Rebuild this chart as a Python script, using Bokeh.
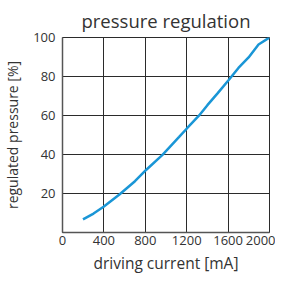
from bokeh.plotting import figure
from bokeh.models import Range1d, FixedTicker
from bokeh.embed import file_html
from bokeh.resources import INLINE

current_ma = [198, 300, 397, 550, 700, 810, 966, 1127, 1206, 1318, 1400, 1500, 1608, 1700, 1798, 1894, 2000]
pressure_pct = [6.7, 9.7, 13.2, 19.5, 26.3, 32.2, 39.8, 49.0, 53.6, 59.9, 65.3, 71.5, 78.3, 84.4, 89.8, 96.4, 100.0]
x_ticks = [0, 400, 800, 1200, 1600, 2000]
y_ticks = [20, 40, 60, 80, 100]
x_title = "driving current [mA]"
y_title = "regulated pressure [%]"

FONT = "Open Sans"
TXT = "#333333"
GRID = "#2b2b2b"

p = figure(width=275, height=276,
           output_backend="svg", toolbar_location=None,
           x_range=Range1d(0, 2000), y_range=Range1d(0, 100),
           title="pressure regulation",
           min_border_left=55, min_border_right=6, min_border_top=26, min_border_bottom=36)

p.title.align = "center"
p.title.text_font = FONT
p.title.text_font_size = "18.5px"
p.title.text_font_style = "normal"
p.title.text_color = TXT

p.line(current_ma, pressure_pct, line_color="#1a96d6", line_width=2.5)

for ax in (p.xaxis[0], p.yaxis[0]):
    ax.major_label_text_font = FONT
    ax.major_label_text_font_size = "13px"
    ax.major_label_text_color = TXT
    ax.axis_label_text_font = FONT
    ax.axis_label_text_font_style = "normal"
    ax.axis_label_text_color = TXT
    ax.axis_line_color = "#555555"
    ax.axis_line_width = 1.5
    ax.major_tick_line_color = None
    ax.minor_tick_line_color = None
    ax.major_tick_out = 0
    ax.major_tick_in = 0
    ax.minor_tick_out = 0
    ax.minor_tick_in = 0

p.xaxis.ticker = FixedTicker(ticks=x_ticks)
p.yaxis.ticker = FixedTicker(ticks=y_ticks)
p.xaxis.axis_label = x_title
p.yaxis.axis_label = y_title
p.xaxis.axis_label_text_font_size = "15.5px"
p.yaxis.axis_label_text_font_size = "14px"
p.xaxis.major_label_standoff = 3
p.yaxis.major_label_standoff = 7
p.xaxis.axis_label_standoff = 4
p.yaxis.axis_label_standoff = 8

p.xgrid.ticker = FixedTicker(ticks=x_ticks)
p.ygrid.ticker = FixedTicker(ticks=y_ticks)
p.grid.grid_line_color = GRID
p.grid.grid_line_width = 1
p.grid.grid_line_alpha = 1.0
p.outline_line_color = GRID
p.outline_line_width = 1

open("out.html", "w").write(file_html(p, INLINE))
